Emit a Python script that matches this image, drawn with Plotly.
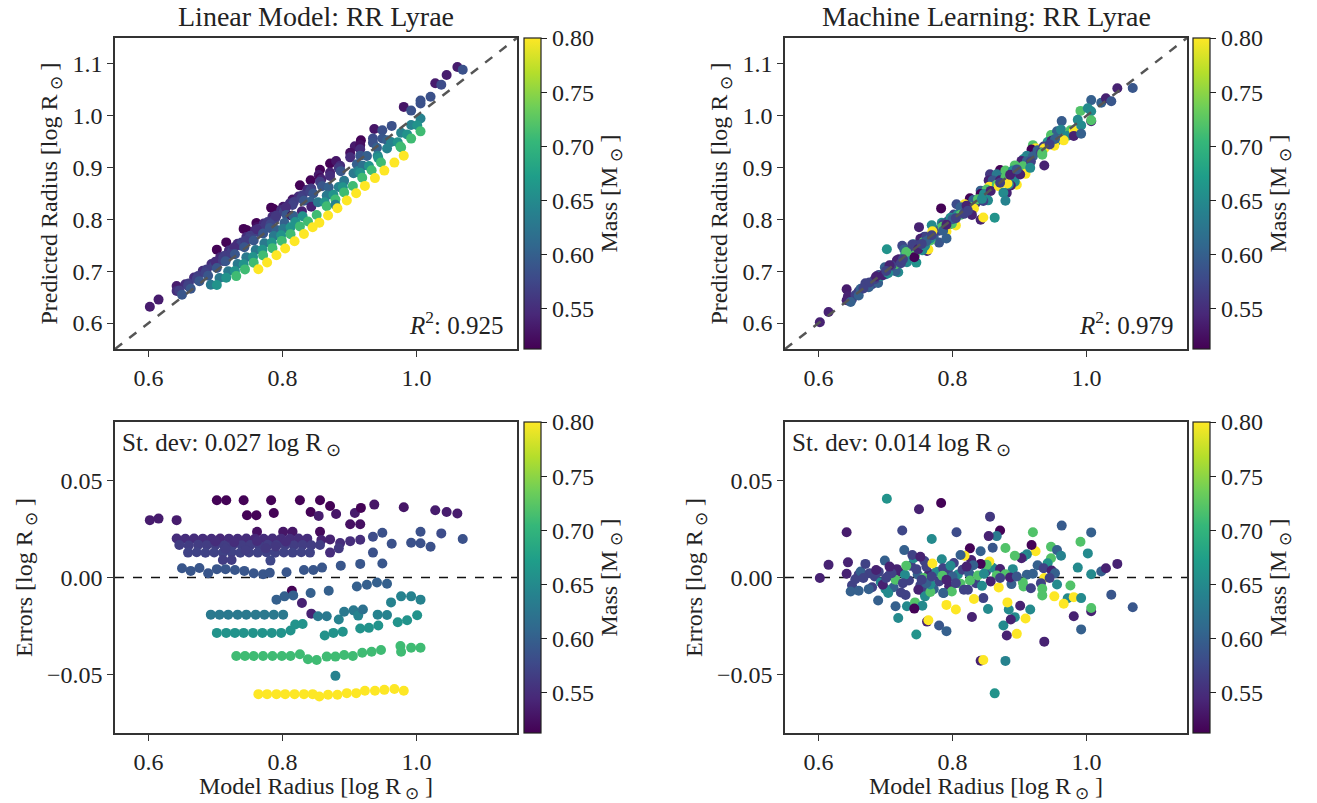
import plotly.graph_objects as go

# ---------------- Linear model: model radius, prediction error, stellar mass ----------------
lin_radius = [
    0.702, 0.716, 0.742, 0.783, 0.826, 0.856, 0.871, 0.937, 0.981,
    0.602, 0.615, 0.642, 0.747, 0.761, 0.787, 0.842, 0.854, 0.880, 0.908, 0.917, 1.028, 1.045, 1.061, 0.901, 0.916,
    0.762, 0.801, 0.815, 0.856,
    0.642, 0.655, 0.668, 0.681, 0.694, 0.707, 0.720, 0.733, 0.746, 0.759, 0.772, 0.785, 0.798, 0.811, 0.824, 0.837, 0.858, 0.871,
    0.886, 0.901, 0.916, 0.935, 0.949, 1.006, 1.037, 1.069,
    0.646, 0.660, 0.674, 0.687, 0.700, 0.713, 0.726, 0.739, 0.752, 0.765, 0.778, 0.791, 0.804, 0.817, 0.830, 0.843, 0.856,
    0.884, 0.963, 0.992, 1.006, 1.021,
    0.659, 0.672, 0.685, 0.698, 0.711, 0.724, 0.737, 0.750, 0.763, 0.776, 0.789, 0.802, 0.815, 0.828, 0.841, 0.871, 0.935,
    0.700, 0.728, 0.762, 0.790, 0.715, 0.745, 0.775, 0.805,
    0.711, 0.724, 0.782,
    0.650, 0.663, 0.676, 0.689, 0.702, 0.715, 0.729, 0.743, 0.757, 0.771, 0.781, 0.806, 0.832, 0.846, 0.859, 0.887, 0.916, 0.949,
    0.911, 0.926, 0.941, 0.956, 0.814, 0.842, 0.869, 0.791, 0.803, 0.816, 0.829, 0.962, 0.977, 0.992, 1.006,
    0.693, 0.706, 0.719, 0.733, 0.746, 0.760, 0.773, 0.787, 0.801, 0.843, 0.853, 0.866, 0.884, 0.892, 0.906, 0.913, 0.920,
    0.942, 0.956, 0.972, 0.986, 1.001,
    0.702, 0.716, 0.729, 0.742, 0.756, 0.770, 0.784, 0.798, 0.812, 0.819, 0.830, 0.863, 0.876, 0.890, 0.916, 0.929, 0.943,
    0.731, 0.744, 0.757, 0.771, 0.785, 0.799, 0.812, 0.826, 0.838, 0.851, 0.866, 0.879, 0.892, 0.905, 0.919, 0.933, 0.947,
    0.976, 0.977, 0.992, 1.006,
    0.879,
    0.764, 0.777, 0.791, 0.804, 0.818, 0.832, 0.845, 0.855, 0.868, 0.882, 0.896, 0.910, 0.923, 0.938, 0.952, 0.967, 0.981,
]
lin_error = [
    0.0397, 0.0397, 0.0397, 0.0397, 0.0397, 0.0397, 0.0368, 0.0375, 0.0361,
    0.0295, 0.0303, 0.0295, 0.0320, 0.0320, 0.0332, 0.0337, 0.0317, 0.0327, 0.0332, 0.0358, 0.0346, 0.0337, 0.0329, 0.0274, 0.0274,
    0.0235, 0.0235, 0.0235, 0.0235,
    0.0201, 0.0199, 0.0201, 0.0200, 0.0199, 0.0201, 0.0200, 0.0199, 0.0201, 0.0200, 0.0199, 0.0201, 0.0200, 0.0199, 0.0201, 0.0200, 0.0193, 0.0196,
    0.0177, 0.0187, 0.0194, 0.0210, 0.0230, 0.0235, 0.0227, 0.0198,
    0.0167, 0.0165, 0.0168, 0.0166, 0.0167, 0.0165, 0.0168, 0.0166, 0.0167, 0.0165, 0.0168, 0.0166, 0.0167, 0.0165, 0.0167, 0.0166, 0.0167,
    0.0150, 0.0174, 0.0179, 0.0176, 0.0158,
    0.0128, 0.0130, 0.0127, 0.0129, 0.0128, 0.0130, 0.0127, 0.0129, 0.0128, 0.0130, 0.0127, 0.0129, 0.0128, 0.0130, 0.0128, 0.0128, 0.0128,
    0.0185, 0.0182, 0.0188, 0.0160, 0.0148, 0.0140, 0.0150, 0.0185,
    0.0090, 0.0090, 0.0087,
    0.0048, 0.0034, 0.0049, 0.0022, 0.0043, 0.0043, 0.0039, 0.0034, 0.0022, 0.0017, 0.0024, 0.0027, 0.0039, 0.0039, 0.0051, 0.0061, 0.0070, 0.0072,
    -0.0046, -0.0037, -0.0026, -0.0032, -0.0068, -0.0080, -0.0068, -0.0114, -0.0097, -0.0092, -0.0131, -0.0128, -0.0097, -0.0097, -0.0114,
    -0.0191, -0.0191, -0.0191, -0.0191, -0.0191, -0.0191, -0.0191, -0.0191, -0.0191, -0.0186, -0.0199, -0.0199, -0.0216, -0.0176, -0.0169, -0.0196, -0.0165,
    -0.0191, -0.0193, -0.0230, -0.0220, -0.0194,
    -0.0285, -0.0285, -0.0285, -0.0285, -0.0285, -0.0285, -0.0285, -0.0285, -0.0273, -0.0242, -0.0239, -0.0298, -0.0285, -0.0279, -0.0262, -0.0259, -0.0247,
    -0.0404, -0.0404, -0.0404, -0.0404, -0.0404, -0.0404, -0.0404, -0.0395, -0.0421, -0.0424, -0.0407, -0.0407, -0.0399, -0.0404, -0.0387, -0.0382, -0.0373,
    -0.0353, -0.0382, -0.0361, -0.0361,
    -0.0506,
    -0.0600, -0.0600, -0.0600, -0.0600, -0.0600, -0.0600, -0.0600, -0.0612, -0.0603, -0.0603, -0.0595, -0.0595, -0.0583, -0.0583, -0.0578, -0.0574, -0.0583,
]
lin_mass = [
    0.515, 0.515, 0.515, 0.515, 0.515, 0.515, 0.515, 0.530, 0.530,
    0.535, 0.535, 0.535, 0.515, 0.515, 0.515, 0.515, 0.535, 0.530, 0.535, 0.515, 0.535, 0.535, 0.535, 0.525, 0.525,
    0.525, 0.530, 0.530, 0.520,
    0.550, 0.550, 0.550, 0.550, 0.550, 0.545, 0.550, 0.550, 0.550, 0.545, 0.550, 0.550, 0.550, 0.550, 0.550, 0.550, 0.540, 0.540,
    0.550, 0.550, 0.550, 0.580, 0.585, 0.585, 0.580, 0.585,
    0.565, 0.565, 0.565, 0.565, 0.565, 0.565, 0.565, 0.565, 0.565, 0.565, 0.565, 0.565, 0.565, 0.565, 0.565, 0.565, 0.565,
    0.560, 0.585, 0.585, 0.585, 0.585,
    0.570, 0.570, 0.570, 0.570, 0.570, 0.570, 0.570, 0.570, 0.570, 0.570, 0.570, 0.570, 0.570, 0.570, 0.570, 0.550, 0.585,
    0.550, 0.550, 0.550, 0.560, 0.565, 0.565, 0.560, 0.550,
    0.565, 0.565, 0.575,
    0.590, 0.590, 0.590, 0.590, 0.590, 0.590, 0.590, 0.590, 0.590, 0.590, 0.590, 0.590, 0.590, 0.590, 0.590, 0.590, 0.590, 0.590,
    0.600, 0.600, 0.600, 0.600, 0.515, 0.600, 0.600, 0.600, 0.600, 0.600, 0.540, 0.640, 0.640, 0.640, 0.640,
    0.630, 0.630, 0.630, 0.630, 0.630, 0.630, 0.630, 0.630, 0.630, 0.540, 0.630, 0.630, 0.640, 0.630, 0.630, 0.640, 0.620,
    0.640, 0.640, 0.660, 0.660, 0.660,
    0.660, 0.660, 0.660, 0.660, 0.660, 0.660, 0.660, 0.660, 0.660, 0.660, 0.660, 0.660, 0.660, 0.660, 0.660, 0.660, 0.660,
    0.710, 0.710, 0.710, 0.710, 0.710, 0.710, 0.710, 0.710, 0.710, 0.710, 0.710, 0.710, 0.710, 0.710, 0.710, 0.710, 0.710,
    0.710, 0.710, 0.710, 0.710,
    0.640,
    0.800, 0.800, 0.800, 0.800, 0.800, 0.800, 0.800, 0.800, 0.800, 0.800, 0.800, 0.800, 0.800, 0.800, 0.800, 0.800, 0.800,
]

# ---------------- Machine-learning model ----------------
ml_radius = [
    0.690, 0.705, 0.712, 0.720, 0.735, 0.738, 0.748, 0.752, 0.758, 0.765, 0.772, 0.776, 0.780, 0.793, 0.795,
    0.802, 0.808, 0.815, 0.825, 0.828, 0.835, 0.850, 0.860, 0.700, 0.730, 0.680, 0.660, 0.650, 0.757, 0.787,
    0.702, 0.750, 0.783, 0.856, 0.642, 0.725, 0.806, 0.769, 0.871, 0.866, 0.854, 0.920, 0.963, 1.007, 0.991, 1.002,
    0.947, 0.956, 0.962, 0.947, 0.942, 0.924, 0.918, 0.911, 0.906, 0.903, 0.893, 0.879, 0.860, 0.842, 0.826, 0.818,
    0.812, 0.855, 0.851, 0.842, 0.831, 0.871, 0.890, 0.927, 0.936, 0.948, 0.987, 1.022, 1.029, 1.046, 1.007, 0.937,
    0.911, 0.920, 0.866, 0.879, 0.838, 0.826, 0.847, 0.857, 0.869, 0.888, 0.905, 0.906, 0.917, 0.932, 0.934, 0.934,
    0.956, 0.952, 0.976, 0.972, 0.981, 0.966, 0.992, 1.007, 1.007, 1.037, 1.069, 0.981, 0.992, 0.937, 0.909, 0.896,
    0.881, 0.876, 0.893, 0.887, 0.884, 0.882, 0.901, 0.916, 0.853, 0.846, 0.832, 0.829, 0.805, 0.791, 0.762, 0.764,
    0.780, 0.791, 0.746, 0.719, 0.715, 0.732, 0.744, 0.755, 0.743, 0.689, 0.842, 0.846, 0.879, 0.863,
    0.602, 0.615, 0.644, 0.642, 0.655, 0.648, 0.660, 0.675, 0.663, 0.670, 0.676, 0.684, 0.693, 0.699, 0.696, 0.704,
    0.715, 0.717, 0.723, 0.728, 0.729, 0.731, 0.742, 0.740, 0.752, 0.746, 0.757, 0.749, 0.759, 0.767, 0.761, 0.770,
    0.767, 0.784, 0.786, 0.785, 0.797, 0.799, 0.800, 0.786, 0.812, 0.817, 0.821, 0.761, 0.769, 0.709, 0.706, 0.686,
    0.667, 0.871, 0.886, 0.896, 0.953, 0.945, 0.805, 0.823, 0.844, 0.726, 0.701, 0.754, 0.791,
]
ml_error = [
    0.0030, 0.0010, -0.0050, 0.0030, -0.0015, 0.0060, 0.0015, -0.0040, 0.0085, 0.0020, -0.0060, 0.0030, -0.0020, 0.0035, -0.0045,
    0.0075, 0.0015, 0.0040, 0.0020, 0.0090, -0.0030, 0.0030, 0.0050, -0.0060, -0.0090, -0.0050, 0.0015, -0.0040, -0.0075, -0.0080,
    0.0405, 0.0351, 0.0383, 0.0313, 0.0233, 0.0242, 0.0233, 0.0198, 0.0242, 0.0213, 0.0213, 0.0233, 0.0267, 0.0232, 0.0184, 0.0124,
    0.0158, 0.0141, 0.0112, 0.0099, 0.0073, 0.0135, 0.0167, 0.0119, 0.0107, 0.0099, 0.0112, 0.0152, 0.0153, 0.0135, 0.0150, 0.0112,
    0.0116, 0.0082, 0.0065, 0.0070, 0.0063, 0.0044, 0.0043, 0.0063, 0.0048, 0.0036, 0.0051, 0.0031, 0.0048, 0.0070, 0.0017, -0.0003,
    0.0014, 0.0019, 0.0010, 0.0017, 0.0010, -0.0015, 0.0019, -0.0020, -0.0051, -0.0034, -0.0026, -0.0046, -0.0055, -0.0029, -0.0058, -0.0092,
    -0.0036, -0.0097, -0.0041, -0.0107, -0.0101, -0.0135, -0.0106, -0.0174, -0.0157, -0.0089, -0.0153, -0.0199, -0.0267, -0.0330, -0.0211, -0.0290,
    -0.0298, -0.0247, -0.0204, -0.0216, -0.0165, -0.0128, -0.0145, -0.0165, -0.0162, -0.0106, -0.0111, -0.0203, -0.0165, -0.0141, -0.0227, -0.0220,
    -0.0247, -0.0276, -0.0293, -0.0208, -0.0148, -0.0148, -0.0128, -0.0145, -0.0160, -0.0118, -0.0428, -0.0424, -0.0429, -0.0596,
    -0.0003, 0.0065, 0.0078, 0.0019, -0.0009, -0.0072, -0.0068, -0.0060, 0.0031, 0.0070, 0.0022, 0.0005, -0.0024, 0.0087, -0.0037, -0.0080,
    -0.0012, 0.0043, -0.0077, 0.0141, 0.0014, 0.0061, 0.0099, 0.0116, 0.0107, 0.0043, -0.0003, -0.0063, -0.0097, -0.0075, 0.0056, 0.0072,
    -0.0036, 0.0094, 0.0048, 0.0009, 0.0061, -0.0072, 0.0005, -0.0080, -0.0032, -0.0063, 0.0056, -0.0029, 0.0005, 0.0022, 0.0056, 0.0039,
    -0.0003, -0.0003, 0.0000, 0.0005, 0.0022, -0.0003, -0.0029, -0.0063, -0.0043, -0.0029, -0.0003, -0.0012, -0.0012,
]
ml_mass = [
    0.570, 0.570, 0.600, 0.540, 0.570, 0.570, 0.600, 0.570, 0.570, 0.540, 0.600, 0.650, 0.570, 0.570, 0.540,
    0.570, 0.650, 0.570, 0.600, 0.540, 0.570, 0.570, 0.650, 0.650, 0.570, 0.570, 0.570, 0.570, 0.570, 0.600,
    0.660, 0.540, 0.515, 0.560, 0.535, 0.575, 0.580, 0.650, 0.515, 0.630, 0.540, 0.720, 0.595, 0.600, 0.720, 0.650,
    0.720, 0.600, 0.640, 0.720, 0.660, 0.800, 0.515, 0.640, 0.650, 0.540, 0.720, 0.720, 0.590, 0.600, 0.515, 0.800,
    0.600, 0.800, 0.720, 0.515, 0.600, 0.540, 0.650, 0.600, 0.570, 0.540, 0.650, 0.600, 0.540, 0.540, 0.650, 0.800,
    0.600, 0.600, 0.720, 0.720, 0.720, 0.720, 0.650, 0.540, 0.800, 0.600, 0.720, 0.720, 0.570, 0.570, 0.720, 0.720,
    0.650, 0.800, 0.720, 0.650, 0.800, 0.800, 0.650, 0.540, 0.720, 0.590, 0.590, 0.540, 0.600, 0.540, 0.800, 0.800,
    0.540, 0.650, 0.650, 0.540, 0.650, 0.800, 0.540, 0.650, 0.650, 0.570, 0.800, 0.540, 0.800, 0.800, 0.540, 0.800,
    0.590, 0.600, 0.660, 0.650, 0.600, 0.650, 0.720, 0.650, 0.515, 0.600, 0.540, 0.800, 0.640, 0.660,
    0.540, 0.540, 0.540, 0.540, 0.570, 0.600, 0.600, 0.600, 0.600, 0.570, 0.570, 0.570, 0.650, 0.600, 0.540, 0.650,
    0.720, 0.540, 0.570, 0.600, 0.650, 0.720, 0.650, 0.570, 0.540, 0.570, 0.720, 0.540, 0.650, 0.720, 0.570, 0.800,
    0.650, 0.650, 0.570, 0.720, 0.650, 0.720, 0.600, 0.600, 0.720, 0.570, 0.540, 0.600, 0.570, 0.570, 0.540, 0.540,
    0.570, 0.570, 0.540, 0.590, 0.600, 0.570, 0.570, 0.570, 0.650, 0.570, 0.570, 0.570, 0.540,
]

mass_ticks = [0.55, 0.60, 0.65, 0.70, 0.75, 0.80]
mass_min, mass_max = 0.513, 0.80
radius_ticks = [0.6, 0.8, 1.0]
pred_ticks = [0.6, 0.7, 0.8, 0.9, 1.0, 1.1]
err_ticks = [-0.05, 0.0, 0.05]

lin_pred = [r + e for r, e in zip(lin_radius, lin_error)]
ml_pred = [r + e for r, e in zip(ml_radius, ml_error)]

FONT = "Liberation Serif, Times New Roman, serif"
SUN = "\u2299"
W, H = 1317, 803
TICK_SIZE = 24
LABEL_SIZE = 24

# panel geometry in paper fractions
x_left = [115 / W, 517 / W]
x_right = [785 / W, 1187 / W]
y_top = [1 - 349 / H, 1 - 38 / H]
y_bot = [1 - 733 / H, 1 - 422 / H]


def colorbar(x0, ydom):
    return dict(
        x=x0, xanchor="left", xref="paper", xpad=0,
        y=(ydom[0] + ydom[1]) / 2, yanchor="middle", yref="paper", ypad=0,
        len=ydom[1] - ydom[0], lenmode="fraction", thickness=17,
        outlinewidth=1.2, outlinecolor="#222",
        tickvals=mass_ticks, tickformat=".2f", ticks="outside", ticklen=6,
        tickwidth=1.2, tickcolor="#222",
        tickfont=dict(family=FONT, size=TICK_SIZE, color="#222"),
        title=dict(text=f"Mass [M<sub> {SUN}</sub> ]", side="right",
                   font=dict(family=FONT, size=LABEL_SIZE, color="#222")),
    )


def scatter(x, y, mass, xa, ya, cbx, ydom):
    return go.Scatter(
        x=x, y=y, mode="markers", xaxis=xa, yaxis=ya, showlegend=False,
        marker=dict(size=10, color=mass, colorscale="Viridis", cmin=mass_min, cmax=mass_max,
                    line=dict(width=0), showscale=True, colorbar=colorbar(cbx, ydom)),
    )


fig = go.Figure()
fig.add_trace(scatter(lin_radius, lin_pred, lin_mass, "x", "y", 524 / W, y_top))
fig.add_trace(scatter(ml_radius, ml_pred, ml_mass, "x2", "y2", 1193 / W, y_top))
fig.add_trace(scatter(lin_radius, lin_error, lin_mass, "x3", "y3", 524 / W, y_bot))
fig.add_trace(scatter(ml_radius, ml_error, ml_mass, "x4", "y4", 1193 / W, y_bot))

axis_common = dict(
    showgrid=False, zeroline=False, showline=True, mirror=True, linecolor="#333", linewidth=1.5,
    ticks="outside", ticklen=6, tickwidth=1.2, tickcolor="#333",
    tickfont=dict(family=FONT, size=TICK_SIZE, color="#222"),
)
lab_font = dict(family=FONT, size=LABEL_SIZE, color="#222")
xlab = dict(text=f"Model Radius [log R<sub> {SUN}</sub> ]", font=lab_font, standoff=8)
ylab_top = dict(text=f"Predicted Radius [log R<sub> {SUN}</sub> ]", font=lab_font, standoff=8)
ylab_bot = dict(text=f"Errors [log R<sub> {SUN}</sub> ]", font=lab_font, standoff=8)

xkw = dict(axis_common, range=[0.55, 1.15], tickvals=radius_ticks, tickformat=".1f")
ytop = dict(axis_common, range=[0.55, 1.15], tickvals=pred_ticks, tickformat=".1f")
ybot = dict(axis_common, range=[-0.08, 0.08], tickvals=err_ticks, tickformat=".2f")

fig.update_layout(
    width=W, height=H, margin=dict(l=0, r=0, t=0, b=0),
    paper_bgcolor="white", plot_bgcolor="white",
    font=dict(family=FONT, color="#222"),
    xaxis=dict(xkw, domain=x_left, anchor="y"),
    yaxis=dict(ytop, domain=y_top, anchor="x", title=ylab_top),
    xaxis2=dict(xkw, domain=x_right, anchor="y2"),
    yaxis2=dict(ytop, domain=y_top, anchor="x2", title=ylab_top),
    xaxis3=dict(xkw, domain=x_left, anchor="y3", title=xlab),
    yaxis3=dict(ybot, domain=y_bot, anchor="x3", title=ylab_bot),
    xaxis4=dict(xkw, domain=x_right, anchor="y4", title=xlab),
    yaxis4=dict(ybot, domain=y_bot, anchor="x4", title=ylab_bot),
)

# one-to-one reference lines and zero-error lines
for xa, ya in [("x", "y"), ("x2", "y2")]:
    fig.add_shape(type="line", xref=xa, yref=ya, x0=0.55, y0=0.55, x1=1.15, y1=1.15,
                  line=dict(color="#555", width=2.5, dash="dash"), layer="above")
for xa, ya in [("x3", "y3"), ("x4", "y4")]:
    fig.add_shape(type="line", xref=f"{xa} domain", yref=ya, x0=0, y0=0, x1=1, y1=0,
                  line=dict(color="#111", width=1.5, dash="dash"), layer="below")

titles = [("Linear Model: RR Lyrae", x_left), ("Machine Learning: RR Lyrae", x_right)]
for text, dom in titles:
    fig.add_annotation(text=text, x=(dom[0] + dom[1]) / 2, y=1 - 17 / H, xref="paper", yref="paper",
                       xanchor="center", yanchor="middle", showarrow=False,
                       font=dict(family=FONT, size=28, color="#222"))

for xa, ya, val in [("x", "y", "0.925"), ("x2", "y2", "0.979")]:
    fig.add_annotation(text=f"<i>R</i><sup>2</sup>: {val}", x=0.97, y=0.025,
                       xref=f"{xa} domain", yref=f"{ya} domain", xanchor="right", yanchor="bottom",
                       showarrow=False, font=dict(family=FONT, size=25, color="#222"))

for xa, ya, val in [("x3", "y3", "0.027"), ("x4", "y4", "0.014")]:
    fig.add_annotation(text=f"St. dev: {val} log R<sub> {SUN}</sub>", x=0.012, y=0.985,
                       xref=f"{xa} domain", yref=f"{ya} domain", xanchor="left", yanchor="top",
                       showarrow=False, font=dict(family=FONT, size=25, color="#222"))

fig.write_html("out.html")
